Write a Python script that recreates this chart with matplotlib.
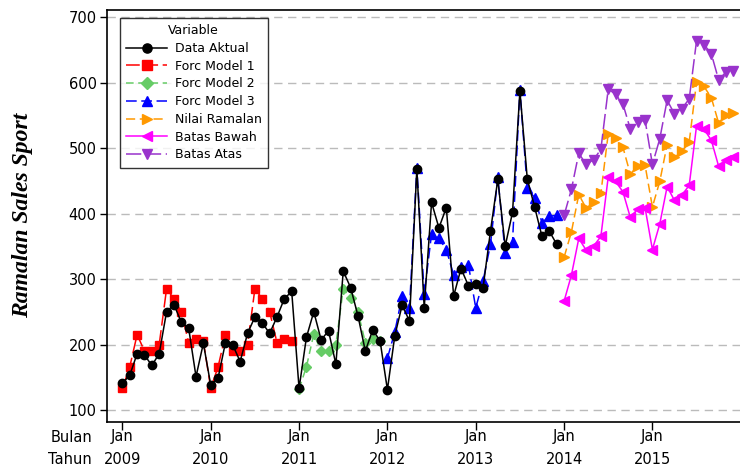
import matplotlib
matplotlib.use("Agg")
import matplotlib.pyplot as plt
import matplotlib.transforms as mtransforms
import numpy as np

# ---- data ----
years = [2009, 2010, 2011, 2012, 2013, 2014, 2015]
month_label = "Jan"

data_aktual = [141, 153, 186, 184, 168, 186, 250, 261, 234, 225, 151, 202,
               138, 149, 203, 199, 174, 217, 242, 233, 217, 242, 270, 281,
               133, 211, 250, 207, 221, 170, 312, 287, 244, 190, 222, 206,
               131, 213, 260, 236, 468, 256, 417, 378, 409, 274, 316, 290,
               292, 287, 373, 452, 350, 402, 587, 453, 410, 365, 373, 353]
forc_model1 = [133, 166, 215, 190, 190, 200, 285, 270, 250, 203, 209, 205,
               133, 166, 215, 190, 190, 200, 285, 270, 250, 203, 209, 205]
forc_model2 = [132, 166, 216, 190, 190, 200, 285, 271, 250, 203, 208, 205]
forc_model3 = [179, 219, 274, 255, 470, 277, 369, 362, 345, 306, 318, 322,
               256, 297, 353, 455, 340, 357, 589, 439, 424, 386, 396, 397]
nilai_ramalan = [333, 372, 429, 408, 417, 431, 522, 516, 501, 460, 473, 474,
                 410, 449, 505, 486, 495, 509, 601, 594, 577, 538, 551, 553]
batas_bawah = [266, 306, 362, 344, 350, 365, 456, 449, 433, 394, 407, 409,
               345, 384, 441, 420, 428, 443, 534, 529, 512, 472, 481, 486]
batas_atas = [397, 437, 492, 475, 482, 498, 590, 582, 567, 529, 539, 543,
              475, 514, 573, 552, 560, 575, 664, 658, 644, 604, 616, 618]

# ---- positions (month index from Jan 2009) ----
t_akt = np.arange(len(data_aktual))
t_m1 = np.arange(0, 24)
t_m2 = np.arange(24, 36)
t_m3 = np.arange(36, 60)
t_fc = np.arange(60, 84)

W, H = 740, 468
fig = plt.figure(figsize=(7.4, 4.68), dpi=100)
ax = fig.add_axes([106.5 / W, 46 / H, (W - 106.5) / W, 412 / H])

ms = 6.8
ax.plot(t_akt, data_aktual, color="black", lw=1.1, marker="o", ms=6,
        label="Data Aktual", zorder=5)
ax.plot(t_m1, forc_model1, color="#FF0000", lw=1.1, ls=(0, (9, 3)), marker="s",
        ms=6, label="Forc Model 1", zorder=4)
ax.plot(t_m2, forc_model2, color="#66CC66", lw=1.1, ls=(0, (5, 3)), marker="D",
        ms=5.6, label="Forc Model 2", zorder=4)
ax.plot(t_m3, forc_model3, color="#0000FF", lw=1.1, ls=(0, (7, 3)), marker="^",
        ms=ms, label="Forc Model 3", zorder=4)
ax.plot(t_fc, nilai_ramalan, color="#FF9900", lw=1.1, ls=(0, (6, 3)), marker=">",
        ms=ms, label="Nilai Ramalan", zorder=4)
ax.plot(t_fc, batas_bawah, color="#FF00FF", lw=1.1, ls="-", marker="<",
        ms=ms, label="Batas Bawah", zorder=4)
ax.plot(t_fc, batas_atas, color="#9933CC", lw=1.1, ls=(0, (10, 3)), marker="v",
        ms=ms, label="Batas Atas", zorder=4)

ax.set_xlim(-2.16, 83.9)
ax.set_ylim(81.7, 710.7)

tick_font = ["Liberation Sans Narrow", "DejaVu Sans"]
fs = 10.5
yt = [100, 200, 300, 400, 500, 600, 700]
ax.set_yticks(yt)
ax.set_yticklabels([str(v) for v in yt], family=tick_font, fontsize=fs)
for v in yt:
    ax.axhline(v, color="#BBBBBB", lw=1.0, ls=(0, (6, 4)), zorder=1)

xt = [12 * i for i in range(len(years))]
ax.set_xticks(xt)
ax.set_xticklabels([])
ax.tick_params(axis="x", length=6, width=1, pad=3)
ax.tick_params(axis="y", length=5, width=1, pad=2)

trans = mtransforms.blended_transform_factory(ax.transData, fig.transFigure)
for x, y in zip(xt, years):
    ax.text(x, 1 - 437 / H, month_label, transform=trans, ha="center",
            va="center", family=tick_font, fontsize=fs, clip_on=False)
    ax.text(x, 1 - 459 / H, str(y), transform=trans, ha="center",
            va="center", family=tick_font, fontsize=fs, clip_on=False)

fig.text(92 / W, 1 - 437 / H, "Bulan", ha="right", va="center",
         family=tick_font, fontsize=fs)
fig.text(92 / W, 1 - 459 / H, "Tahun", ha="right", va="center",
         family=tick_font, fontsize=fs)

for s in ["left", "bottom", "top"]:
    ax.spines[s].set_linewidth(1.2)
ax.spines["right"].set_visible(False)

fig.text(23 / W, 1 - 215 / H, "Ramalan Sales Sport", rotation=90,
         ha="center", va="center", family="Liberation Serif",
         fontweight="bold", fontstyle="italic", fontsize=17)

leg = ax.legend(loc="upper left", bbox_to_anchor=(0.011, 0.996), title="Variable",
                fontsize=9, title_fontsize=9, frameon=True, fancybox=False,
                edgecolor="black", handlelength=3.3, borderpad=0.5,
                labelspacing=0.38, handletextpad=0.6, markerscale=1.1)
leg.get_frame().set_linewidth(1.0)
leg.set_zorder(10)

fig.savefig("out.png", dpi=100)
